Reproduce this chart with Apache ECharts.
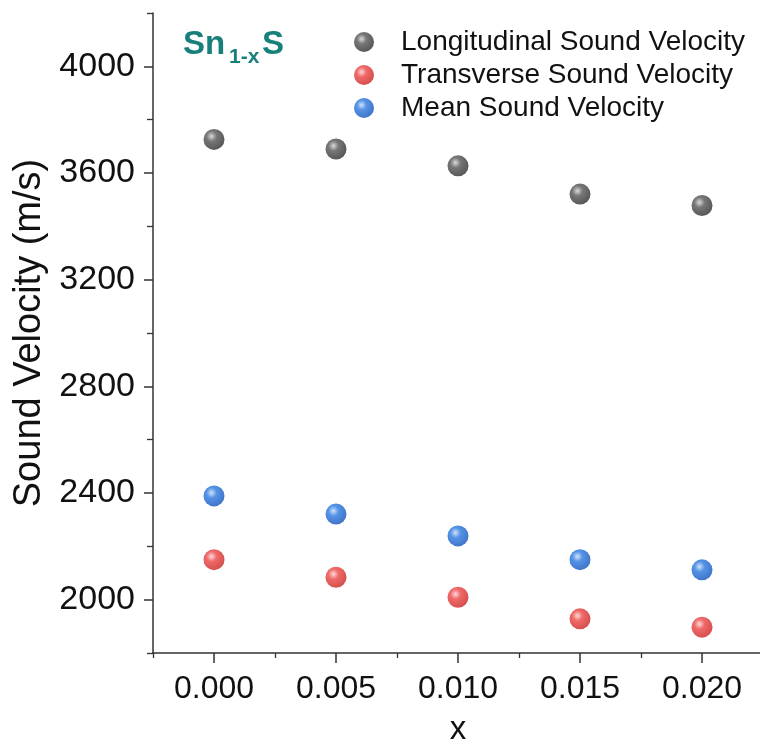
<!DOCTYPE html>
<html>
<head>
<meta charset="utf-8">
<script src="https://cdn.jsdelivr.net/npm/echarts@6/dist/echarts.min.js"></script>
<style>
html,body{margin:0;padding:0;background:#fff;}
#chart{width:760px;height:746px;}
</style>
</head>
<body>
<div id="chart"></div>
<script>
const xValues = [0.000, 0.005, 0.010, 0.015, 0.020];
const longitudinal = [3726, 3690, 3627, 3521, 3478];
const transverse = [2150, 2084, 2009, 1928, 1897];
const mean = [2389, 2321, 2239, 2150, 2112];
const seriesNames = ['Longitudinal Sound Velocity', 'Transverse Sound Velocity', 'Mean Sound Velocity'];
const xTicks = [0.000, 0.005, 0.010, 0.015, 0.020];
const xMinorTicks = [-0.0025, 0.0025, 0.0075, 0.0125, 0.0175, 0.0225];
const yTicks = [2000, 2400, 2800, 3200, 3600, 4000];
const yMinorTicks = [1800, 2200, 2600, 3000, 3400, 3800, 4200];

function sphere(light, base, dark) {
  return new echarts.graphic.RadialGradient(0.38, 0.35, 0.7, [
    {offset: 0, color: light},
    {offset: 0.35, color: base},
    {offset: 1, color: dark}
  ]);
}
const fills = [
  sphere('#d0d0d0', '#555555', '#2a2a2a'),
  sphere('#fbd0d0', '#ec4444', '#c92020'),
  sphere('#c6dcf6', '#2a78e0', '#1050b8')
];
const allData = [longitudinal, transverse, mean];

const chart = echarts.init(document.getElementById('chart'));
const font = '"Liberation Sans", Arial, sans-serif';
const axisColor = '#333';
const X0 = -0.0025, X1 = 0.0225, Y0 = 1800, Y1 = 4200;

chart.setOption({
  animation: false,
  backgroundColor: '#fff',
  grid: {left: 153, top: 13, width: 610, height: 640, containLabel: false, outerBoundsMode: 'none'},
  legend: {
    orient: 'vertical',
    left: 349,
    top: 23,
    itemWidth: 20,
    itemHeight: 20,
    itemGap: 5,
    icon: 'circle',
    textStyle: {fontFamily: font, fontSize: 28, color: '#111', padding: [0, 0, 0, 22]},
    data: seriesNames
  },
  xAxis: [{
    type: 'value',
    min: X0, max: X1,
    name: 'x',
    nameLocation: 'middle',
    nameGap: 60,
    nameTextStyle: {fontFamily: font, fontSize: 33, color: '#111'},
    axisLine: {show: true, onZero: false, lineStyle: {color: axisColor, width: 1.5}},
    axisTick: {show: true, inside: false, length: 10, customValues: xTicks, lineStyle: {color: axisColor, width: 1.5}},
    splitLine: {show: false},
    axisLabel: {
      fontFamily: font, fontSize: 32, color: '#111', margin: 20,
      customValues: xTicks,
      formatter: function (v) { return Number(v).toFixed(3); }
    }
  }, {
    type: 'value',
    min: X0, max: X1,
    position: 'bottom',
    gridIndex: 0,
    axisLine: {show: false, onZero: false},
    axisTick: {show: true, inside: false, length: 5, customValues: xMinorTicks, lineStyle: {color: axisColor, width: 1.3}},
    axisLabel: {show: false},
    splitLine: {show: false}
  }],
  yAxis: [{
    type: 'value',
    min: Y0, max: Y1,
    name: 'Sound Velocity (m/s)',
    nameLocation: 'middle',
    nameGap: 100,
    nameTextStyle: {fontFamily: font, fontSize: 38, color: '#111'},
    axisLine: {show: true, onZero: false, lineStyle: {color: axisColor, width: 1.5}},
    axisTick: {show: true, inside: false, length: 9, customValues: yTicks, lineStyle: {color: axisColor, width: 1.5}},
    splitLine: {show: false},
    axisLabel: {
      fontFamily: font, fontSize: 34, color: '#111', margin: 18,
      customValues: yTicks,
      formatter: function (v) { return String(Math.round(v)); }
    }
  }, {
    type: 'value',
    min: Y0, max: Y1,
    position: 'left',
    gridIndex: 0,
    axisLine: {show: false, onZero: false},
    axisTick: {show: true, inside: false, length: 6, customValues: yMinorTicks, lineStyle: {color: axisColor, width: 1.3}},
    axisLabel: {show: false},
    splitLine: {show: false}
  }],
  graphic: [
    {type: 'text', left: 183, top: 28, style: {text: 'Sn', font: 'bold 33px ' + font, fill: '#17807a'}},
    {type: 'text', left: 229, top: 47, style: {text: '1-x', font: 'bold 21px ' + font, fill: '#17807a'}},
    {type: 'text', left: 262, top: 28, style: {text: 'S', font: 'bold 33px ' + font, fill: '#17807a'}}
  ],
  series: seriesNames.map(function (name, i) {
    return {
      name: name,
      type: 'scatter',
      symbol: 'circle',
      symbolSize: 21,
      itemStyle: {color: fills[i]},
      data: xValues.map(function (x, j) { return [x, allData[i][j]]; })
    };
  })
});
</script>
</body>
</html>
